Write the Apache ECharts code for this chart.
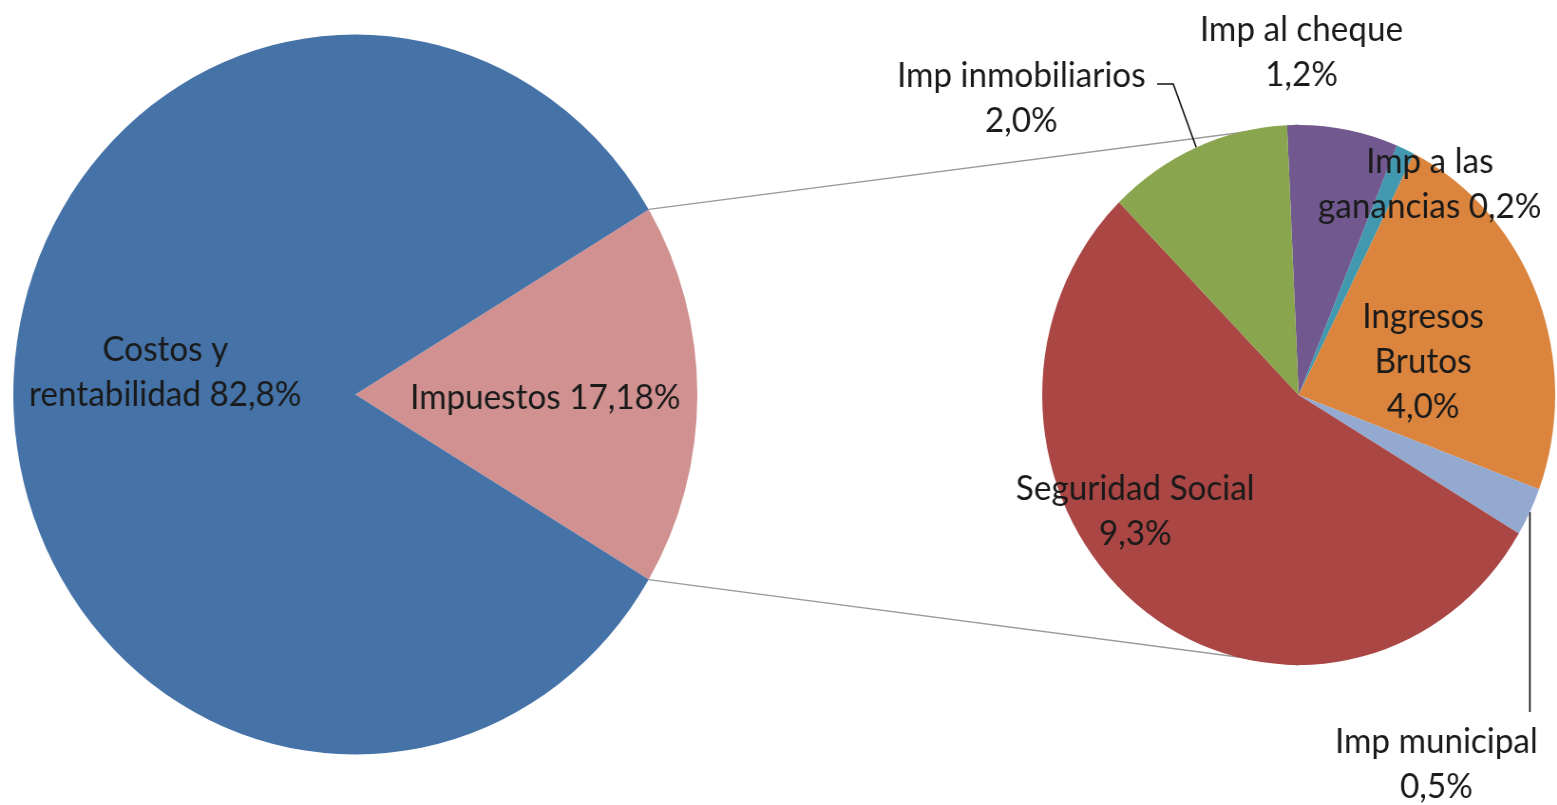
<!DOCTYPE html>
<html><head><meta charset="utf-8">
<script src="https://cdn.jsdelivr.net/npm/echarts@6/dist/echarts.min.js"></script>
<style>
html,body{margin:0;padding:0;background:#ffffff;overflow:hidden;width:1557px;height:805px;}
#chart{width:1639px;height:805px;transform:scaleX(0.95);transform-origin:0 0;}
</style></head><body><div id="chart"></div>
<script>
// ---- data ----
const primaryNames = ['Impuestos', 'Costos y rentabilidad'];
const primaryValues = [17.18, 82.8];
const primaryLabels = ['Impuestos {v}%', 'Costos y\nrentabilidad {v}%'];

const secondaryNames = ['Imp al cheque', 'Imp a las ganancias', 'Ingresos Brutos', 'Imp municipal', 'Seguridad Social', 'Imp inmobiliarios'];
const secondaryValues = [1.2, 0.2, 4.0, 0.5, 9.3, 2.0];
const secondaryLabels = ['Imp al cheque\n{v}%', 'Imp a las\nganancias {v}%', 'Ingresos\nBrutos\n{v}%', 'Imp municipal\n{v}%', 'Seguridad Social\n{v}%', 'Imp inmobiliarios\n{v}%'];

// ---- style / layout ----
const primaryColors = ['#D09190', '#4572A7'];
const secondaryColors = ['#71588F', '#4198AF', '#DB843D', '#93A9CF', '#AA4643', '#89A54E'];
const P = { cx: 374, cy: 394.5, r: 360 };
const S = { cx: 1367, cy: 395, r: 270, start: 92.6 };
const primaryLabelPos = [[574, 398], [174, 372]];
const secondaryLabelPos = [[1370, 52], [1505, 184], [1498, 362], [1512, 764], [1195, 511], [1075, 98]];
const FONT = { fontFamily: 'Lato', fontSize: 35, lineHeight: 45, color: '#1a1a1a' };

function fmt(v) {
  const d = Math.max(1, (String(v).split('.')[1] || '').length);
  return v.toFixed(d).replace('.', ',');
}
const sum = a => a.reduce((s, x) => s + x, 0);
const sumP = sum(primaryValues), sumS = sum(secondaryValues);

function edgePoint(i) {
  let before = 0;
  for (let k = 0; k < i; k++) before += secondaryValues[k];
  const a = (S.start - (before + secondaryValues[i] / 2) / sumS * 360) * Math.PI / 180;
  return [S.cx + S.r * Math.cos(a), S.cy - S.r * Math.sin(a)];
}

const secondaryLeaders = {
  5: i => { const p = edgePoint(i); return [p, [1235, 84], [1218, 84]]; },
  3: i => { const p = edgePoint(i); return [p, [p[0], 712], [p[0], 712]]; }
};

const half = primaryValues[0] / sumP * Math.PI;
const cX = P.cx + P.r * Math.cos(half);
const cYt = P.cy - P.r * Math.sin(half);
const cYb = P.cy + P.r * Math.sin(half);

const chart = echarts.init(document.getElementById('chart'), null, { renderer: 'canvas' });
chart.setOption({
  backgroundColor: '#ffffff',
  animation: false,
  graphic: [
    { type: 'line', z: 1, shape: { x1: cX, y1: cYt, x2: S.cx, y2: S.cy - S.r }, style: { stroke: '#9a9a9a', lineWidth: 1.3 } },
    { type: 'line', z: 1, shape: { x1: cX, y1: cYb, x2: S.cx, y2: S.cy + S.r }, style: { stroke: '#9a9a9a', lineWidth: 1.3 } }
  ],
  series: [
    {
      type: 'pie', z: 2,
      center: [P.cx, P.cy], radius: P.r,
      startAngle: primaryValues[0] / sumP * 180,
      clockwise: true, avoidLabelOverlap: false,
      itemStyle: { borderWidth: 0 },
      label: Object.assign({ show: true, position: 'inside', formatter: p => primaryLabels[p.dataIndex].replace('{v}', fmt(p.value)) }, FONT),
      labelLine: { show: false },
      labelLayout: p => ({ x: primaryLabelPos[p.dataIndex][0], y: primaryLabelPos[p.dataIndex][1], align: 'center', verticalAlign: 'middle' }),
      emphasis: { disabled: true },
      data: primaryValues.map((v, i) => ({ name: primaryNames[i], value: v, itemStyle: { color: primaryColors[i] } }))
    },
    {
      type: 'pie', z: 2,
      center: [S.cx, S.cy], radius: S.r,
      startAngle: S.start,
      clockwise: true, avoidLabelOverlap: false,
      itemStyle: { borderWidth: 0 },
      label: Object.assign({ show: true, position: 'outside', formatter: p => secondaryLabels[p.dataIndex].replace('{v}', fmt(p.value)) }, FONT),
      labelLine: { show: true, length: 10, length2: 10, smooth: false, lineStyle: { color: '#111111', width: 1.6 } },
      labelLayout: p => {
        const pos = secondaryLabelPos[p.dataIndex];
        const o = { x: pos[0], y: pos[1], align: 'center', verticalAlign: 'middle' };
        if (secondaryLeaders[p.dataIndex]) o.labelLinePoints = secondaryLeaders[p.dataIndex](p.dataIndex);
        return o;
      },
      emphasis: { disabled: true },
      data: secondaryValues.map((v, i) => ({
        name: secondaryNames[i], value: v,
        itemStyle: { color: secondaryColors[i] },
        labelLine: { show: !!secondaryLeaders[i] }
      }))
    }
  ]
});
</script>
</body></html>
